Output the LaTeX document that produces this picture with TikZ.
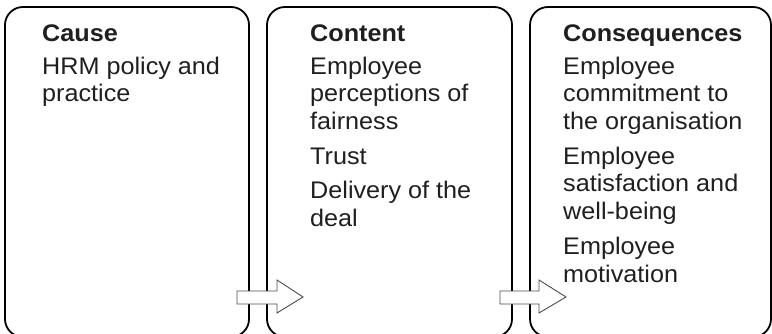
\documentclass[tikz,border=0pt]{standalone}
\usepackage{fontspec}
\setmainfont{Liberation Sans}[FakeStretch=1.05]
\begin{document}
\begin{tikzpicture}[x=1pt,y=-1pt,
  panel/.style={draw=black,line width=1.8pt,rounded corners=18pt,fill=none},
  txt/.style={anchor=north west,inner sep=0pt,align=left,text=black!88,
    font=\fontsize{24}{27.7}\selectfont},
  blockarrow/.style={draw=black!70,line width=0.9pt,fill=white,line join=miter}]
\useasboundingbox (0,0) rectangle (772,334);
\clip (0,0) rectangle (772,334);
\node[panel,minimum width=244pt,minimum height=330pt] (cause) at (127,172) {};
\node[panel,minimum width=245pt,minimum height=330pt] (content) at (389.5,172) {};
\node[panel,minimum width=241pt,minimum height=330pt] (cons) at (650.5,172) {};
\node[txt] (t1) at (42,24.5) {\textbf{Cause}\\[5pt]HRM policy and\\practice};
\node[txt] (t2) at (310,24.5) {\textbf{Content}\\[5pt]Employee\\perceptions of\\fairness\\[7pt]Trust\\[7pt]Delivery of the\\deal};
\node[txt] (t3) at (563,24.5) {\textbf{Consequences}\\[5pt]Employee\\commitment to\\the organisation\\[7pt]Employee\\satisfaction and\\well-being\\[7pt]Employee\\motivation};
\draw[blockarrow] (237,291) -- (277,291) -- (277,280) -- (303,297) -- (277,313) -- (277,304) -- (237,304) -- cycle;
\draw[blockarrow] (500,291) -- (539,291) -- (539,280) -- (566,297) -- (539,313) -- (539,304) -- (500,304) -- cycle;
\end{tikzpicture}
\end{document}
